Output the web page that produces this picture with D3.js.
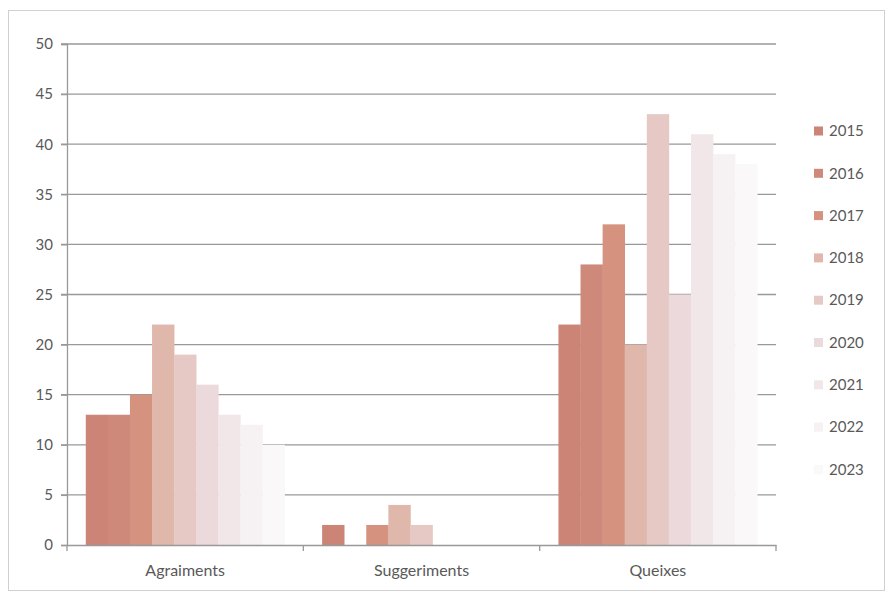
<!doctype html>
<html>
<head>
<meta charset="utf-8">
<style>
  body { margin: 0; background: #fff; }
  text { font-family: Lato, "Open Sans", sans-serif; fill: #595959; }
</style>
<script src="https://d3js.org/d3.v7.min.js"></script>
</head>
<body>
<svg width="888" height="594"></svg>
<script>
var categories = ["Agraiments", "Suggeriments", "Queixes"];
var years = ["2015", "2016", "2017", "2018", "2019", "2020", "2021", "2022", "2023"];
var agraiments   = [13, 13, 15, 22, 19, 16, 13, 12, 10];
var suggeriments = [2, 0, 2, 4, 2, 0, 0, 0, 0];
var queixes      = [22, 28, 32, 20, 43, 25, 41, 39, 38];
var yTicks = [0, 5, 10, 15, 20, 25, 30, 35, 40, 45, 50];
var colors = ["#cc8477", "#cf897b", "#d4927f", "#e0b7ab", "#e6c9c5", "#ebd9db", "#f1e7e9", "#f6f1f3", "#faf8f9"];

var series = [agraiments, suggeriments, queixes];

var svg = d3.select("svg");

// frame round the chart
svg.append("rect")
   .attr("x", 8.5).attr("y", 10.5)
   .attr("width", 876).attr("height", 580)
   .attr("fill", "none")
   .attr("stroke", "#d0d0d0");

var plotLeft = 67, plotRight = 776, plotTop = 44, plotBottom = 545;

var x0 = d3.scaleBand().domain(categories).range([plotLeft, plotRight]);
var x1 = d3.scaleBand().domain(years).range([0, x0.bandwidth()]).paddingOuter(0.85);
var y = d3.scaleLinear().domain([0, 50]).range([plotBottom, plotTop]);
var color = d3.scaleOrdinal().domain(years).range(colors);

// gridlines
svg.append("g")
   .selectAll("line")
   .data(yTicks.filter(function(d) { return d > 0; }))
   .enter().append("line")
   .attr("x1", plotLeft - 6).attr("x2", plotRight)
   .attr("y1", function(d) { return y(d); })
   .attr("y2", function(d) { return y(d); })
   .attr("stroke", "#999")
   .attr("stroke-width", 1.3);

// bars
var g = svg.append("g");
categories.forEach(function(c, ci) {
    g.append("g")
     .attr("transform", "translate(" + x0(c) + ",0)")
     .selectAll("rect")
     .data(series[ci].map(function(v, i) { return {year: years[i], value: v}; }))
     .enter().append("rect")
     .attr("x", function(d) { return x1(d.year); })
     .attr("y", function(d) { return y(d.value); })
     .attr("width", x1.bandwidth() + 0.3)
     .attr("height", function(d) { return plotBottom - y(d.value); })
     .attr("fill", function(d) { return color(d.year); });
});

// y axis
var yAxis = svg.append("g")
   .attr("transform", "translate(" + plotLeft + ",0)")
   .call(d3.axisLeft(y).tickValues(yTicks).tickSize(6).tickPadding(8));
yAxis.select(".domain").attr("stroke", "#999").attr("stroke-width", 1.3);
yAxis.selectAll(".tick line").attr("stroke", "#999").attr("stroke-width", 1.3);
yAxis.selectAll("text").attr("font-size", "15px").attr("fill", "#595959")
     .style("font-family", "Lato, 'Open Sans', sans-serif");

// x axis
var xAxis = svg.append("g")
   .attr("transform", "translate(0," + plotBottom + ")")
   .call(d3.axisBottom(x0).tickSize(0).tickPadding(20));
xAxis.select(".domain").attr("stroke", "#999").attr("stroke-width", 1.3);
xAxis.selectAll("text").attr("font-size", "16px").attr("fill", "#595959")
     .style("font-family", "Lato, 'Open Sans', sans-serif");

// category separators below the axis
svg.append("g")
   .selectAll("line")
   .data(categories.map(function(c) { return x0(c); }).concat([plotRight]))
   .enter().append("line")
   .attr("x1", function(d) { return d; }).attr("x2", function(d) { return d; })
   .attr("y1", plotBottom).attr("y2", plotBottom + 6)
   .attr("stroke", "#999")
   .attr("stroke-width", 1.3);

// legend
var legend = svg.append("g")
   .selectAll("g")
   .data(years)
   .enter().append("g")
   .attr("transform", function(d, i) { return "translate(814," + (131 + i * 42.3) + ")"; });

legend.append("rect")
   .attr("x", 0).attr("y", -4.5)
   .attr("width", 9).attr("height", 9)
   .attr("fill", function(d) { return color(d); });

legend.append("text")
   .attr("x", 15).attr("y", 0)
   .attr("dy", "0.35em")
   .attr("font-size", "15px")
   .text(function(d) { return d; });
</script>
</body>
</html>
